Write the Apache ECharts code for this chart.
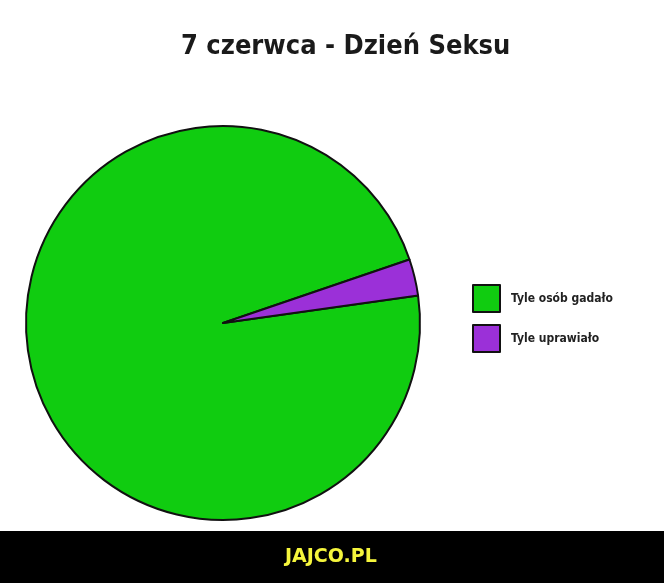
<!DOCTYPE html>
<html>
<head>
<meta charset="utf-8">
<title>7 czerwca - Dzień Seksu</title>
<script src="https://cdn.jsdelivr.net/npm/echarts@6/dist/echarts.min.js"></script>
<style>
  html, body { margin: 0; padding: 0; background: #fff; }
  #chart { width: 664px; height: 583px; }
</style>
</head>
<body>
<div id="chart"></div>
<script>
var titleText = '7 czerwca - Dzień Seksu';
var categories = ['Tyle osób gadało', 'Tyle uprawiało'];
var values = [97, 3];
var colors = ['#10cc10', '#9b30d8'];
var footerText = 'JAJCO.PL';

var narrow = "'DejaVu Sans Condensed', 'Liberation Sans Narrow', sans-serif";

var myChart = echarts.init(document.getElementById('chart'));

var option = {
    backgroundColor: '#fff',
    animation: false,
    title: {
        text: titleText,
        left: 176,
        top: 28,
        textStyle: {
            fontFamily: narrow,
            fontWeight: 'bold',
            fontSize: 27,
            color: '#1a1a1a'
        }
    },
    legend: {
        orient: 'vertical',
        left: 467,
        top: 279,
        itemWidth: 27,
        itemHeight: 27,
        itemGap: 11,
        icon: 'rect',
        data: categories,
        itemStyle: { borderColor: '#111', borderWidth: 2 },
        textStyle: {
            fontFamily: narrow,
            fontWeight: 'bold',
            fontSize: 12,
            color: '#222',
            padding: [0, 0, 0, 6]
        }
    },
    series: [{
        type: 'pie',
        center: [223, 323],
        radius: [0, 197],
        startAngle: 8,
        clockwise: true,
        label: { show: false },
        labelLine: { show: false },
        itemStyle: { borderColor: '#111', borderWidth: 2 },
        data: categories.map(function (c, i) {
            return { name: c, value: values[i], itemStyle: { color: colors[i] } };
        })
    }],
    graphic: [
        {
            type: 'rect',
            left: 0,
            top: 531,
            shape: { width: 664, height: 52 },
            style: { fill: '#000' }
        },
        {
            type: 'text',
            left: 285,
            top: 548,
            style: {
                text: footerText,
                fill: '#f5f53c',
                font: "bold 19px 'DejaVu Sans', sans-serif"
            }
        }
    ]
};

myChart.setOption(option);
</script>
</body>
</html>
